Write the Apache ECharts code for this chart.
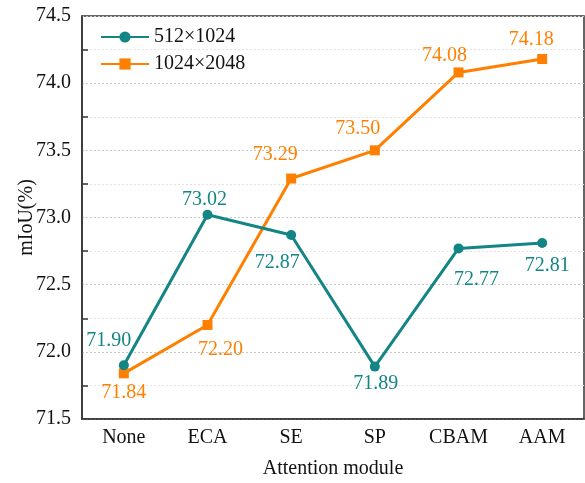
<!DOCTYPE html>
<html>
<head>
<meta charset="utf-8">
<script src="https://cdn.jsdelivr.net/npm/echarts@6/dist/echarts.min.js"></script>
<style>
html,body{margin:0;padding:0;background:#fff;}
#chart{width:585px;height:483px;}
</style>
</head>
<body>
<div id="chart"></div>
<script>
const categories = ['None', 'ECA', 'SE', 'SP', 'CBAM', 'AAM'];
const seriesNames = ['512×1024', '1024×2048'];
const valuesSmall = [71.90, 73.02, 72.87, 71.89, 72.77, 72.81];
const valuesLarge = [71.84, 72.20, 73.29, 73.50, 74.08, 74.18];
const yTicks = [71.5, 72.0, 72.5, 73.0, 73.5, 74.0, 74.5];

// label placement (offsets from point centre, px)
const offSmall = [[-15,-25],[-3,-15],[-14,28],[1,17],[18,31],[5,23]];
const offLarge = [[0,19],[13,25],[-16,-24],[-17,-22],[-14,-17],[-11,-19]];

const teal = '#138584';
const orange = '#FF8000';
const FONT = 'Liberation Serif';

function build(vals, offs) {
  return vals.map((v, i) => ({
    value: v,
    label: { offset: offs[i] }
  }));
}

const chart = echarts.init(document.getElementById('chart'), null, {renderer: 'canvas'});
chart.setOption({
  animation: false,
  textStyle: { fontFamily: FONT },
  grid: {
    left: 82, right: 1, top: 16, bottom: 64,
    outerBoundsMode: 'none',
    containLabel: false,
    show: true, borderColor: '#333', borderWidth: 1.5, backgroundColor: 'transparent'
  },
  legend: {
    orient: 'vertical',
    left: 100, top: 27, padding: 0,
    itemWidth: 48, itemHeight: 14, itemGap: 7,
    textStyle: { fontFamily: FONT, fontSize: 20, color: '#111' },
    data: seriesNames
  },
  xAxis: {
    type: 'category',
    data: categories,
    boundaryGap: true,
    name: 'Attention module',
    nameLocation: 'middle',
    nameGap: 40,
    nameMoveOverlap: false,
    nameTextStyle: { fontFamily: FONT, fontSize: 20, color: '#111' },
    axisLine: { lineStyle: { color: '#333', width: 1.5 } },
    axisTick: { inside: true, alignWithLabel: true, length: 7, lineStyle: { color: '#333', width: 1.5 } },
    axisLabel: { fontFamily: FONT, fontSize: 20, color: '#111', margin: 9 },
    splitLine: { show: false }
  },
  yAxis: {
    type: 'value',
    min: yTicks[0], max: yTicks[yTicks.length - 1], interval: 0.5,
    name: 'mIoU(%)',
    nameLocation: 'middle',
    nameGap: 45,
    nameMoveOverlap: false,
    nameTextStyle: { fontFamily: FONT, fontSize: 20, color: '#111' },
    axisLine: { show: true, lineStyle: { color: '#333', width: 1.5 } },
    axisTick: { inside: true, length: 6, lineStyle: { color: '#333', width: 1.5 } },
    minorTick: { show: true, splitNumber: 2, length: 6, lineStyle: { color: '#333', width: 1.5 } },
    axisLabel: { fontFamily: FONT, fontSize: 20, color: '#111', margin: 11,
      formatter: v => v.toFixed(1) },
    splitLine: { show: true, lineStyle: { color: '#c8c8c8', type: [2, 2], width: 1 } },
    minorSplitLine: { show: true, lineStyle: { color: '#e2e2e2', type: [2, 2], width: 1 } }
  },
  series: [
    {
      name: seriesNames[0], type: 'line',
      data: build(valuesSmall, offSmall),
      symbol: 'circle', symbolSize: 10,
      lineStyle: { color: teal, width: 3 },
      itemStyle: { color: teal },
      label: { show: true, position: 'inside', fontFamily: FONT, fontSize: 20, color: teal,
        formatter: p => p.value.toFixed(2) },
      z: 3
    },
    {
      name: seriesNames[1], type: 'line',
      data: build(valuesLarge, offLarge),
      symbol: 'rect', symbolSize: 10,
      lineStyle: { color: orange, width: 3 },
      itemStyle: { color: orange },
      label: { show: true, position: 'inside', fontFamily: FONT, fontSize: 20, color: orange,
        formatter: p => p.value.toFixed(2) },
      z: 2
    }
  ]
});
</script>
</body>
</html>
